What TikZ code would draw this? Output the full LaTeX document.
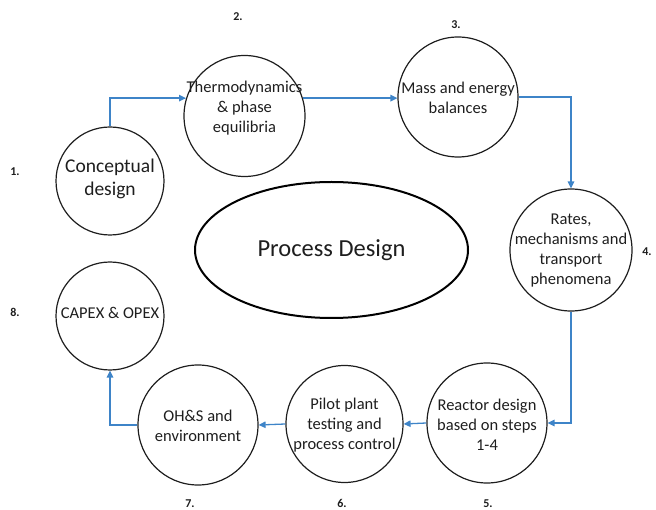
\documentclass[tikz,border=0pt]{standalone}
\usepackage{fontspec}
\setmainfont{Carlito}
\usetikzlibrary{arrows.meta,shapes.geometric}
\definecolor{flowblue}{RGB}{62,132,200}
\definecolor{inkgray}{RGB}{30,30,30}
\tikzset{
  stage/.style={circle, draw=inkgray, line width=1.2pt, inner sep=0pt},
  stagetext/.style={align=center, inner sep=0pt, text=inkgray,
    font=\fontsize{16.5}{20}\selectfont},
  stepnum/.style={inner sep=0pt, text=inkgray, anchor=base,
    font=\bfseries\fontsize{12}{14}\selectfont},
  flow/.style={draw=flowblue, line width=1.3pt,
    -{Triangle[length=7pt,width=6.5pt]}},
}
\begin{document}
\begin{tikzpicture}[x=1pt,y=-1pt]
\useasboundingbox (0,0) rectangle (656,510);

% central ellipse
\node[ellipse, draw=black, line width=2pt, minimum width=273pt,
      minimum height=136pt, inner sep=0pt,
      font=\fontsize{24.5}{28}\selectfont, text=inkgray]
      (core) at (331.5,250) {Process Design};

% stage circles
\node[stage, minimum size=108pt] (c1) at (110,181) {};
\node[stage, minimum size=121pt] (c2) at (244.5,116) {};
\node[stage, minimum size=120pt] (c3) at (458,97) {};
\node[stage, minimum size=122pt] (c4) at (571,250) {};
\node[stage, minimum size=120pt] (c5) at (487,423) {};
\node[stage, minimum size=117pt] (c6) at (344.5,424) {};
\node[stage, minimum size=120pt] (c7) at (198,425) {};
\node[stage, minimum size=108pt] (c8) at (110,316) {};

% stage texts
\node[stagetext, font=\fontsize{19.5}{23}\selectfont] (t1) at (110,178.5) {Conceptual\\design};
\node[stagetext] (t2) at (244.5,108) {Thermodynamics\\\& phase\\equilibria};
\node[stagetext] (t3) at (458,98) {Mass and energy\\balances};
\node[stagetext] (t4) at (571,251) {Rates,\\mechanisms and\\transport\\phenomena};
\node[stagetext] (t5) at (487,425) {Reactor design\\based on steps\\1-4};
\node[stagetext] (t6) at (344.5,425) {Pilot plant\\testing and\\process control};
\node[stagetext] (t7) at (198,426) {OH\&S and\\environment};
\node[stagetext] (t8) at (110,313) {CAPEX \& OPEX};

% step numbers (baselines)
\node[stepnum] (n1) at (15,176) {1.};
\node[stepnum] (n2) at (238,21) {2.};
\node[stepnum] (n3) at (456,29) {3.};
\node[stepnum] (n4) at (647,256) {4.};
\node[stepnum] (n5) at (488,507.5) {5.};
\node[stepnum] (n6) at (342,507) {6.};
\node[stepnum] (n7) at (190,507) {7.};
\node[stepnum] (n8) at (15,317) {8.};

% flow connectors
\draw[flow] (c1.north) |- (c2.163);
\draw[flow] (c2.17) -- (c2.17 -| c3.west);
\draw[flow] (c3.east) -| (c4.north);
\draw[flow] (c4.south) |- (c5.east);
\draw[flow] (c5.west) -- (c6.east);
\draw[flow] (c6.west) -- (c7.east);
\draw[flow] (c7.west) -| (c8.south);
\end{tikzpicture}
\end{document}
